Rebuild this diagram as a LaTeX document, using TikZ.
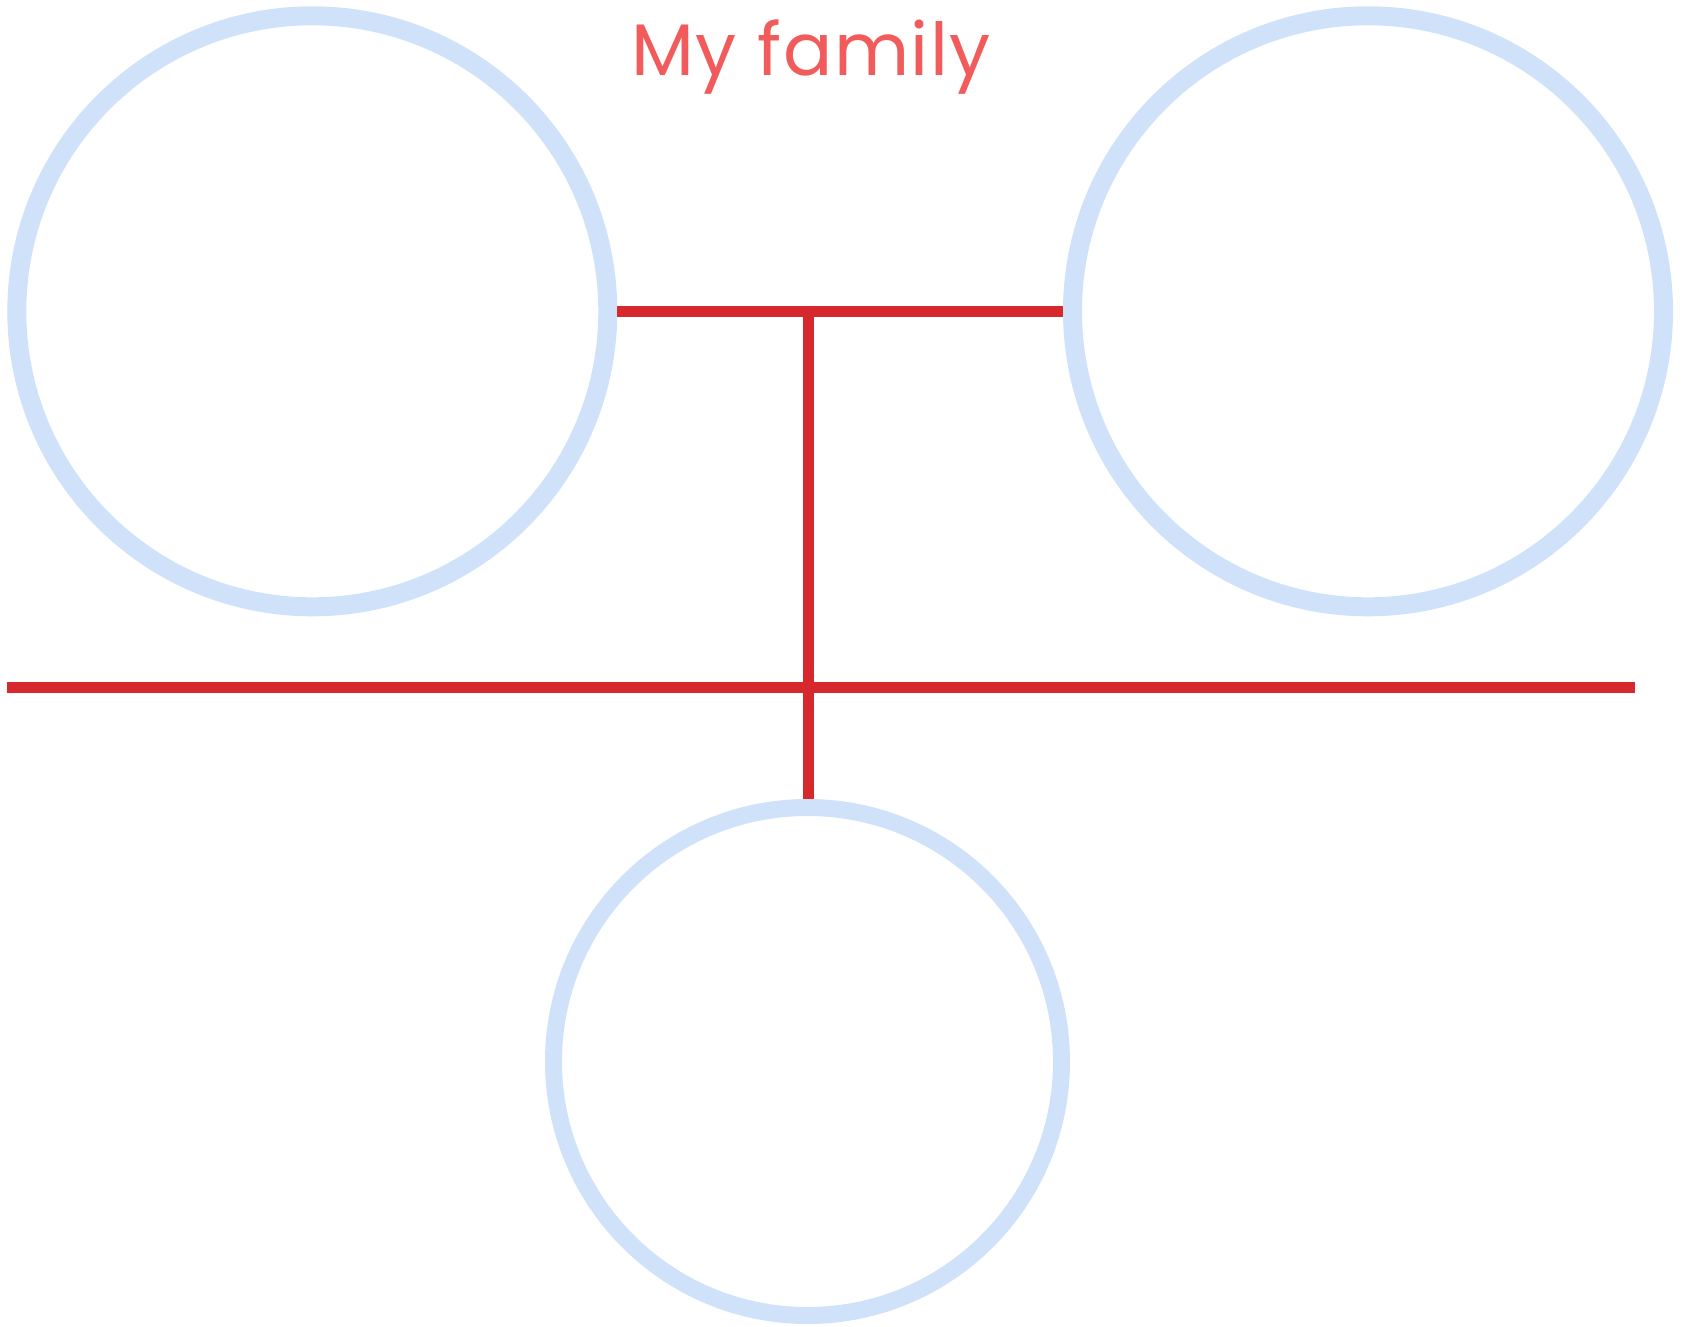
\documentclass[tikz,border=0pt]{standalone}
\usepackage{fontspec}
\setmainfont{Poppins}[LetterSpace=2]
\definecolor{ringblue}{HTML}{CFE2FA}
\definecolor{linered}{HTML}{D7282E}
\definecolor{titlered}{HTML}{F15B5B}
\begin{document}
\begin{tikzpicture}[x=1pt,y=-1pt,
  person/.style={circle,draw=ringblue,fill=none,inner sep=0pt,line width=19pt},
  child/.style={circle,draw=ringblue,fill=none,inner sep=0pt,line width=17pt,minimum size=508pt},
  link/.style={draw=linered,line width=11pt}]
\useasboundingbox (0,0) rectangle (1682,1326);
\node[person,minimum size=591pt] (L) at (312.3,311.3) {};
\node[person,minimum size=591pt] (R) at (1368,311.3) {};
\node[child] (C) at (807.5,1061.5) {};
\node[text=titlered,font=\fontsize{73}{80}\selectfont,anchor=base] (title) at (811,75) {My family};
\coordinate (T) at (808,311.7);
\coordinate (HL) at (7,687);
\coordinate (HR) at (1635,687);
\draw[link] (L.east |- T) -- (R.west |- T);
\draw[link] (T) -- (C.north -| T);
\draw[link] (HL) -- (HR);
\end{tikzpicture}
\end{document}
